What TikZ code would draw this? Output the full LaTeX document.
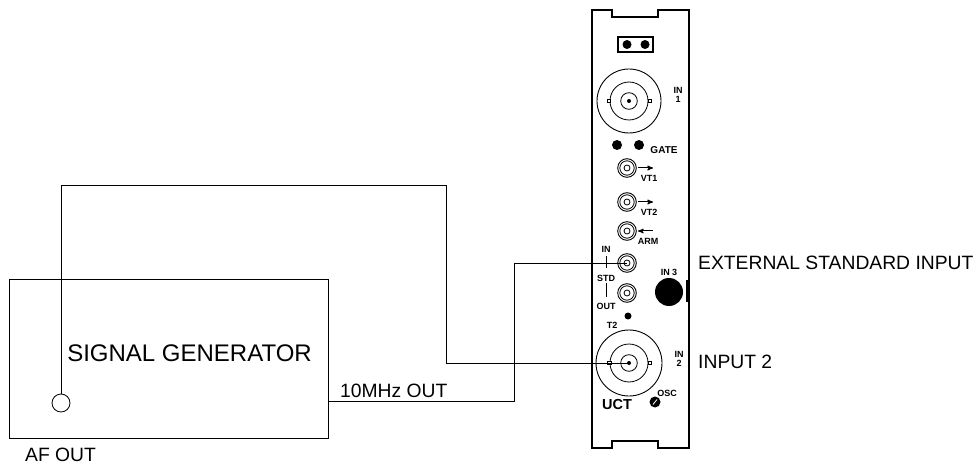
\documentclass[tikz,border=0pt]{standalone}
\usepackage{fontspec}
\setmainfont{Liberation Sans}
\usetikzlibrary{arrows, positioning}

\tikzset{
  wire/.style={line width=0.9pt},
  panel/.style={line width=1.1pt},
  bigtxt/.style={inner sep=0pt, font=\fontsize{19.3}{20}\selectfont},
  lbl/.style={inner sep=0pt, align=center, font=\bfseries\fontsize{9}{9}\selectfont},
  smalljack/.style={circle, draw, line width=0.9pt, minimum size=18.6pt, inner sep=0pt},
  bigjack/.style={circle, draw, line width=0.9pt, minimum size=64pt, inner sep=0pt},
  blackdot/.style={circle, fill=black, inner sep=0pt},
  tab/.style={draw, line width=0.6pt, fill=white, minimum width=3.5pt, minimum height=3.5pt, inner sep=0pt}
}

\begin{document}
\begin{tikzpicture}[x=1pt,y=-1pt,>=stealth']
\useasboundingbox (0,0) rectangle (977,465);

% signal generator
\node[draw, wire, minimum width=319pt, minimum height=159pt] (siggen) at (168.5,358.5) {};
\node[inner sep=0pt, font=\fontsize{24}{25}\selectfont] (sgtext) at (189.5,353) {SIGNAL GENERATOR};
\node[circle, draw, line width=0.8pt, minimum size=18pt, inner sep=0pt] (afout) at (61,403) {};
\node[bigtxt, anchor=west] (aftext) at (25,455) {AF OUT};

% front panel
\draw[panel] (592,10) -- (612,10) -- (612,17) -- (658,17) -- (658,10) -- (689,10)
  -- (689,448) -- (658,448) -- (658,441) -- (612,441) -- (612,448) -- (592,448) -- cycle;
\node[draw, panel, minimum width=35pt, minimum height=15pt] (jumper) at (635.5,44.5) {};
\node[blackdot, minimum size=9pt] (j1) at (627,44.5) {};
\node[blackdot, minimum size=9pt] (j2) at (645,44.5) {};

% IN 1
\node[bigjack] (in1) at (629,101) {};
\draw[line width=0.8pt] (in1.center) circle (19pt) (in1.center) circle (8.3pt);
\node[blackdot, minimum size=4pt] at (in1.center) {};
\node[tab] at (609,101) {};
\node[tab] at (650,101) {};
\node[lbl] (in1lbl) at (678,95) {IN\\1};

% gate
\node[blackdot, minimum size=10pt] (g1) at (617,145) {};
\node[blackdot, minimum size=10pt] (g2) at (639,145) {};
\node[lbl, font=\bfseries\fontsize{10}{10}\selectfont] (gatelbl) at (664,150.5) {GATE};

% small connectors
\foreach \y/\nm in {168/vt1, 202/vt2, 231/arm, 263/stdin, 293/stdout}{
  \node[smalljack] (\nm) at (627,\y) {};
  \draw[line width=0.8pt] (\nm.center) circle (7.2pt) (\nm.center) circle (3pt);
}
\draw[->, line width=1pt] (638,168) -- (653,168);
\draw[->, line width=1pt] (638,202) -- (653,202);
\draw[<-, line width=1pt] (638,231) -- (653,231);
\node[lbl] (vt1lbl) at (649,178) {VT1};
\node[lbl] (vt2lbl) at (649,212) {VT2};
\node[lbl] (armlbl) at (648,241) {ARM};

% std in / out
\node[lbl] (stdinlbl) at (606,249) {IN};
\node[lbl] (stdlbl) at (606,278) {STD};
\node[lbl] (stdoutlbl) at (606,306) {OUT};
\draw[line width=0.7pt] (606,256) -- (606,268);
\draw[line width=0.7pt] (606,283) -- (606,297);

% IN 3
\node[lbl] (in3lbl) at (669,272) {IN 3};
\node[blackdot, minimum size=28pt] (in3) at (669,292) {};
\fill (685.5,280) rectangle (689,302);

% T2 and IN 2
\node[blackdot, minimum size=7pt] (t2) at (628,316) {};
\node[lbl] (t2lbl) at (612,325) {T2};
\node[bigjack, minimum size=66pt] (in2) at (629,363) {};
\draw[line width=0.8pt] (in2.center) circle (19pt) (in2.center) circle (8.3pt);
\node[blackdot, minimum size=4pt] at (in2.center) {};
\node[tab] at (609.5,363) {};
\node[tab] at (650,363) {};
\node[lbl] (in2lbl) at (679,359) {IN\\2};

% UCT and OSC
\node[lbl, font=\bfseries\fontsize{14.5}{15}\selectfont] (uct) at (617,405) {UCT};
\node[lbl] (osclbl) at (667,393) {OSC};
\node[blackdot, minimum size=11pt] (osc) at (655,402) {};
\draw[white, line width=0.8pt] (653,404.5) -- (657,399.5);

% wires
\coordinate (k1) at (446,185);
\coordinate (k2) at (514,401);
\draw[wire] (afout.north) |- (k1) |- (in2.center);
\draw[wire] (siggen.east |- k2) -- (k2) |- (stdin.center);

% texts
\node[bigtxt, anchor=west] (mhz) at (340,391) {10MHz OUT};
\node[bigtxt, anchor=west] (extstd) at (698,263) {EXTERNAL STANDARD INPUT};
\node[bigtxt, anchor=west] (input2) at (698,362) {INPUT 2};
\end{tikzpicture}
\end{document}
